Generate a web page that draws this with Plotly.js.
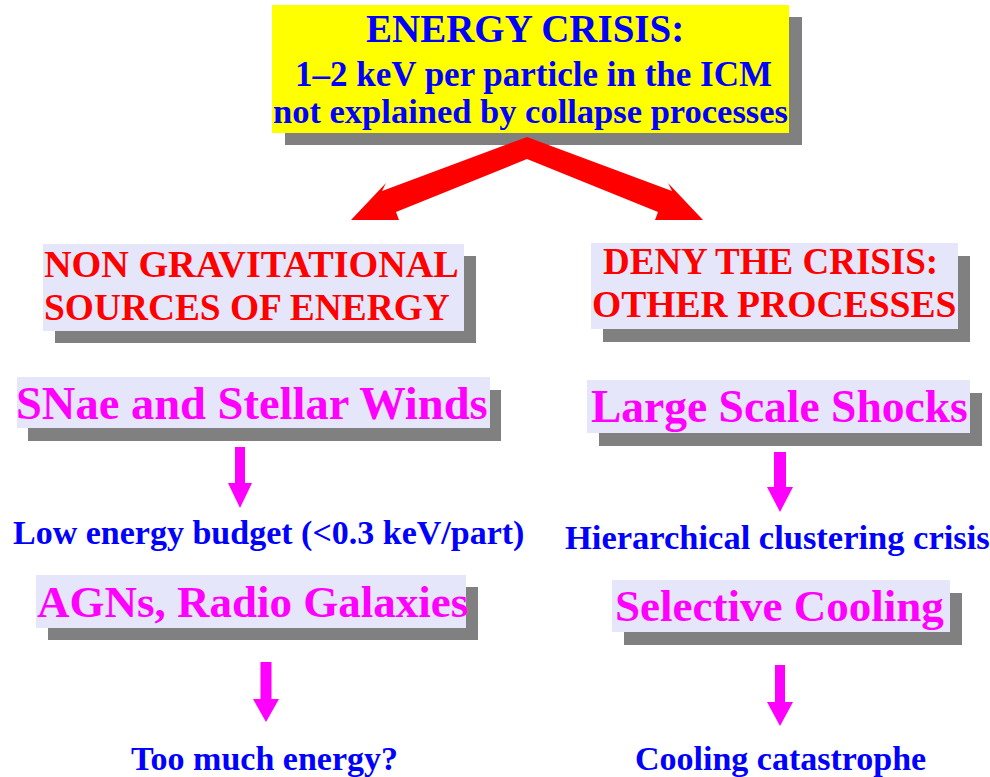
<!DOCTYPE html>
<html>
<head>
<meta charset="utf-8">
<script src="https://cdn.plot.ly/plotly-3.0.1.min.js"></script>
<style>html,body{margin:0;padding:0;background:#fff;}#chart{width:990px;height:777px;}</style>
</head>
<body>
<div id="chart"></div>
<script>
// ---- content (text of the diagram) ----
const headline = ["ENERGY CRISIS:", "1\u20132 keV per particle in the ICM", "not explained by collapse processes"];
const branchLeft = ["NON GRAVITATIONAL", "SOURCES OF ENERGY"];
const branchRight = ["DENY THE CRISIS:", "OTHER PROCESSES"];
const mechanismsLeft = ["SNae and Stellar Winds", "AGNs, Radio Galaxies"];
const mechanismsRight = ["Large Scale Shocks", "Selective Cooling"];
const outcomesLeft = ["Low energy budget (&lt;0.3 keV/part)", "Too much energy?"];
const outcomesRight = ["Hierarchical clustering crisis", "Cooling catastrophe"];

// ---- layout geometry (pixel space) ----
const SERIF = "Liberation Serif, Times New Roman, serif";
const BLUE = "#0000ff", RED = "#ff0000", MAG = "#ff00ff";
const YELLOW = "#ffff00", LAV = "#e6e6fa", GREY = "#808080";

const boxes = [
  {x0:272, x1:789, y0:5,   y1:133, fill:YELLOW, dx:13, dy:12},
  {x0:43,  x1:464, y0:244, y1:331, fill:LAV, dx:12, dy:12},
  {x0:591, x1:958, y0:243, y1:329, fill:LAV, dx:12, dy:13},
  {x0:17,  x1:490, y0:377, y1:428, fill:LAV, dx:11, dy:13},
  {x0:587, x1:970, y0:380, y1:433, fill:LAV, dx:12, dy:13},
  {x0:36,  x1:466, y0:575, y1:628, fill:LAV, dx:12, dy:12},
  {x0:612, x1:950, y0:580, y1:632, fill:LAV, dx:12, dy:13}
];

const shapes = [];
boxes.forEach(b => {
  shapes.push({type:'rect', xref:'x', yref:'y', x0:b.x0+b.dx, x1:b.x1+b.dx, y0:b.y0+b.dy, y1:b.y1+b.dy,
    fillcolor:GREY, line:{width:0}, layer:'below'});
});
boxes.forEach(b => {
  shapes.push({type:'rect', xref:'x', yref:'y', x0:b.x0, x1:b.x1, y0:b.y0, y1:b.y1,
    fillcolor:b.fill, line:{width:0}, layer:'below'});
});

// red forked arrow
const fork = [[527,137],[672,191],[668,183],[703,220],[655,220],[658,212],[527,159],
              [396,212],[399,220],[351,220],[386,183],[382,191]];
shapes.push({type:'path', xref:'x', yref:'y',
  path:'M' + fork.map(p => p[0] + ',' + p[1]).join(' L') + ' Z',
  fillcolor:RED, line:{width:0}});

// magenta down arrows
const downArrows = [
  {cx:240, top:447, hw:5,   sb:483, hh:12, tip:508},
  {cx:780, top:452, hw:6,   sb:487, hh:13, tip:512},
  {cx:266, top:662, hw:5.5, sb:699, hh:13, tip:722},
  {cx:780, top:665, hw:5,   sb:702, hh:13, tip:726}
];
downArrows.forEach(a => {
  const pts = [[a.cx-a.hw,a.top],[a.cx+a.hw,a.top],[a.cx+a.hw,a.sb],[a.cx+a.hh,a.sb],
               [a.cx,a.tip],[a.cx-a.hh,a.sb],[a.cx-a.hw,a.sb]];
  shapes.push({type:'path', xref:'x', yref:'y',
    path:'M' + pts.map(p => p[0] + ',' + p[1]).join(' L') + ' Z',
    fillcolor:MAG, line:{width:0}});
});

function ann(text, x, y, size, color) {
  return {text:"<b>" + text + "</b>", x:x, y:y, xref:'x', yref:'y', showarrow:false,
    xanchor:'center', yanchor:'middle', align:'center',
    font:{family:SERIF, size:size, color:color, weight:'bold'}};
}

const annotations = [
  ann(headline[0], 525, 28, 39, BLUE),
  ann(headline[1], 533, 74, 35, BLUE),
  ann(headline[2], 530, 111, 34.5, BLUE),
  ann(branchLeft[0], 251, 264, 38.2, RED),
  ann(branchLeft[1], 247, 307, 37.4, RED),
  ann(branchRight[0], 770, 261, 37, RED),
  ann(branchRight[1], 774, 304, 37.6, RED),
  ann(mechanismsLeft[0], 252, 403, 46.5, MAG),
  ann(mechanismsRight[0], 779, 406, 45.5, MAG),
  ann(outcomesLeft[0], 268, 533, 34, BLUE),
  ann(outcomesRight[0], 777, 537, 34.5, BLUE),
  ann(mechanismsLeft[1], 252, 602, 45, MAG),
  ann(mechanismsRight[1], 779, 606, 45, MAG),
  ann(outcomesLeft[1], 264, 758, 34, BLUE),
  ann(outcomesRight[1], 780, 758, 34, BLUE)
];

const layout = {
  width:990, height:777,
  margin:{l:0, r:0, t:0, b:0, pad:0},
  paper_bgcolor:'#ffffff', plot_bgcolor:'#ffffff',
  xaxis:{range:[0,990], visible:false, fixedrange:true},
  yaxis:{range:[777,0], visible:false, fixedrange:true},
  showlegend:false,
  shapes:shapes,
  annotations:annotations
};

Plotly.newPlot('chart', [], layout, {displayModeBar:false, staticPlot:true});
</script>
</body>
</html>
